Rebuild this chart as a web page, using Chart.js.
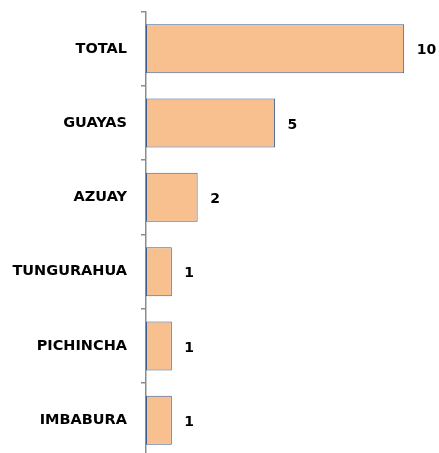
<!DOCTYPE html>
<html>
<head>
<meta charset="utf-8">
<script src="https://cdn.jsdelivr.net/npm/chart.js@4/dist/chart.umd.min.js"></script>
<style>
  html, body { margin: 0; padding: 0; background: #fff; overflow: hidden; }
  #wrap { width: 439px; height: 491px; margin-top: -11px; position: relative; }
</style>
</head>
<body>
<div id="wrap"><canvas id="chart"></canvas></div>
<script>
const provincias = ["TOTAL", "GUAYAS", "AZUAY", "TUNGURAHUA", "PICHINCHA", "IMBABURA"];
const casos = [10, 5, 2, 1, 1, 1];

// draws the value to the right of each bar
const valueLabels = {
  id: "valueLabels",
  afterDatasetsDraw(chart) {
    const ctx = chart.ctx;
    const meta = chart.getDatasetMeta(0);
    ctx.save();
    ctx.font = "bold 14px 'DejaVu Sans', sans-serif";
    ctx.fillStyle = "#000";
    ctx.textBaseline = "middle";
    meta.data.forEach((bar, i) => {
      ctx.fillText(String(casos[i]), bar.x + 12.5, bar.y + 2);
    });
    ctx.restore();
  },
};

new Chart(document.getElementById("chart"), {
  type: "bar",
  data: {
    labels: provincias,
    datasets: [
      {
        data: casos,
        backgroundColor: "#F9C08F",
        borderColor: "#3E5F92",
        borderWidth: 1,
        borderSkipped: false,
        categoryPercentage: 0.66,
        barPercentage: 1,
      },
    ],
  },
  options: {
    indexAxis: "y",
    responsive: true,
    maintainAspectRatio: false,
    animation: false,
    layout: { padding: { top: 2, right: 0, bottom: 0, left: 0 } },
    plugins: {
      legend: { display: false },
      tooltip: { enabled: false },
    },
    scales: {
      x: {
        display: false,
        min: 0,
        max: 11.35,
      },
      y: {
        offset: true,
        afterFit(scale) { scale.width = 146; },
        border: { display: true, color: "#8c8c8c", width: 1.5 },
        grid: {
          offset: true,
          drawOnChartArea: false,
          color: "#8c8c8c",
          lineWidth: 1.5,
          tickLength: 5,
        },
        ticks: {
          color: "#000",
          padding: 14,
          font: { family: "'DejaVu Sans', sans-serif", size: 14.5, weight: "bold" },
        },
      },
    },
  },
  plugins: [valueLabels],
});
</script>
</body>
</html>
